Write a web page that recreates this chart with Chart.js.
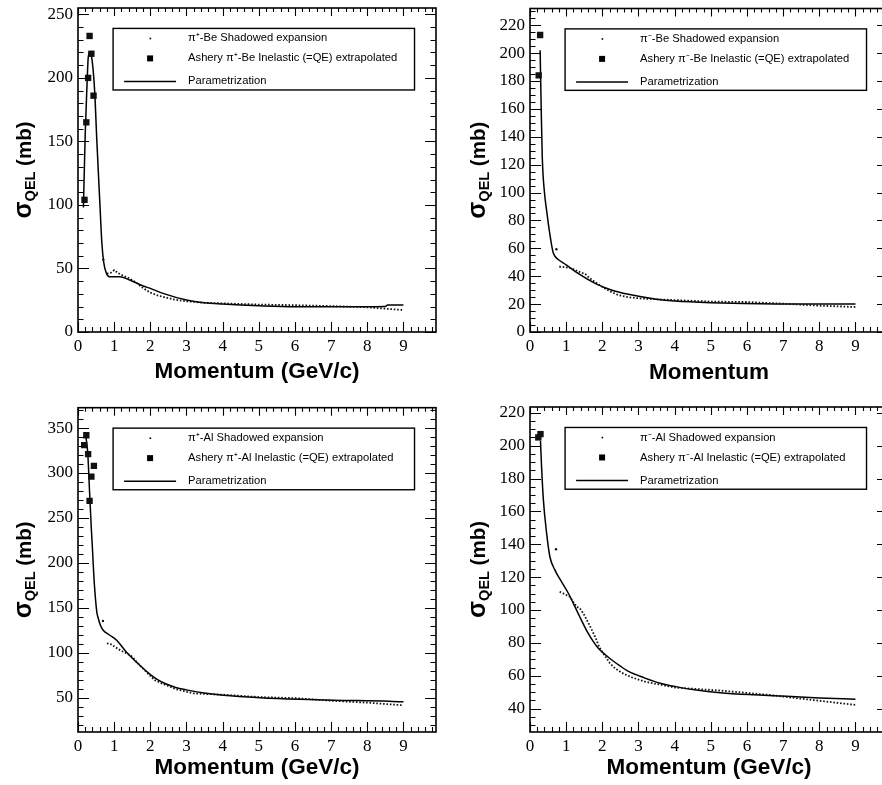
<!DOCTYPE html>
<html>
<head>
<meta charset="utf-8">
<script src="https://cdn.jsdelivr.net/npm/chart.js@4.4.1/dist/chart.umd.min.js"></script>
<style>
  html, body { margin: 0; padding: 0; background: #fff; overflow: hidden; }
  body { width: 882px; height: 785px; position: relative; }
  canvas { position: absolute; }
</style>
</head>
<body>
<canvas id="beplus"></canvas>
<canvas id="beminus"></canvas>
<canvas id="alplus"></canvas>
<canvas id="alminus"></canvas>
<script>
// pi+ Be
const bePlusShadowP = [0.7, 0.75, 0.8, 0.9, 1.0, 1.1, 1.2, 1.4, 1.6, 1.8, 2.0, 2.2, 2.4, 2.7, 3.0, 3.5, 4.0, 5.0, 6.0, 7.0, 8.0, 9.0];
const bePlusShadowS = [57, null, 46, 46.5, 48.7, 46.5, 45, 42.5, 39, 34.5, 31, 28.8, 27.3, 25.3, 24.2, 23, 22.5, 21.6, 21.1, 20.4, 19.4, 17.3];
const bePlusAsheryP = [0.18, 0.23, 0.28, 0.32, 0.37, 0.43];
const bePlusAsheryS = [104, 165, 200, 233, 219, 186];
const bePlusParamP = [0.15, 0.2, 0.25, 0.28, 0.32, 0.36, 0.39, 0.46, 0.52, 0.6, 0.66, 0.71, 0.78, 0.87, 1.0, 1.15, 1.43, 1.8, 2.0, 2.35, 3.0, 3.5, 4.0, 5.0, 6.0, 7.0, 8.5, 8.56, 9.0];
const bePlusParamS = [98, 156, 195, 215, 220, 218, 214, 190, 151, 104, 70, 55, 46.6, 43.5, 43.5, 43.5, 40.9, 36.2, 34.3, 30.4, 25.2, 23, 22, 20.6, 19.8, 19.8, 20.1, 21.2, 21.2];

// pi- Be
const beMinusShadowP = [0.73, 0.77, 0.81, 0.9, 1.15, 1.31, 1.42, 1.53, 1.63, 1.8, 2.02, 2.21, 2.44, 2.72, 3.08, 3.54, 4.0, 5.0, 6.0, 7.0, 8.0, 9.0];
const beMinusShadowS = [59.3, null, 46.8, 46.8, 45.7, 43.7, 42.5, 41.5, 39, 35.8, 32, 29.2, 26.5, 24.9, 24, 23.4, 22.9, 21.8, 21.5, 20.3, 18.9, 17.9];
const beMinusAsheryP = [0.24, 0.28];
const beMinusAsheryS = [184, 213];
const beMinusParamP = [0.28, 0.31, 0.34, 0.4, 0.46, 0.51, 0.55, 0.6, 0.64, 0.7, 0.78, 1.0, 1.33, 1.8, 2.25, 2.72, 3.5, 4.0, 5.0, 6.8, 9.0];
const beMinusParamS = [202, 160, 125, 100, 87, 77, 70, 62, 57, 54, 52, 48.2, 42, 34.9, 30.1, 27, 23.5, 22.2, 21, 20.1, 20];

// pi+ Al
const alPlusShadowP = [0.69, 0.74, 0.8, 0.9, 1.17, 1.38, 1.5, 1.59, 1.7, 2.02, 2.11, 2.35, 2.72, 3.18, 3.5, 4.0, 5.0, 6.0, 7.0, 8.0, 9.0];
const alPlusShadowS = [135.5, null, 110.8, 110, 103, 98.9, 95.9, 91.5, 86.7, 73.7, 70, 65.6, 59.7, 55.2, 54.5, 53.7, 51, 49.8, 47, 44.8, 41.9];
const alPlusAsheryP = [0.17, 0.23, 0.28, 0.32, 0.37, 0.44];
const alPlusAsheryS = [331, 342, 321, 269, 296, 308];
const alPlusParamP = [0.22, 0.27, 0.32, 0.37, 0.39, 0.45, 0.52, 0.55, 0.62, 0.69, 0.87, 1.06, 1.33, 1.7, 2.02, 2.2, 2.44, 2.7, 3.0, 3.54, 4.02, 5.04, 6.14, 7.06, 8.6, 9.0];
const alPlusParamS = [340, 322, 279, 237, 223, 178, 145.5, 140, 130.8, 125.6, 120, 114.4, 101.5, 86.7, 75.5, 70.5, 65.5, 61.7, 59, 55.2, 53, 50.3, 48.5, 47.5, 46.4, 45.7];

// pi- Al
const alMinusShadowP = [0.72, 0.77, 0.82, 0.91, 1.1, 1.29, 1.38, 1.5, 1.61, 1.72, 1.82, 1.91, 2.02, 2.12, 2.21, 2.35, 2.53, 2.81, 3.18, 3.64, 4.03, 5.26, 6.64, 7.56, 8.2, 9.03];
const alMinusShadowS = [137, null, 111.1, 110.2, 108.1, 102, 101, 97, 92.3, 87.4, 82.8, 77.7, 73.7, 70.6, 67.6, 64.6, 61.9, 59.1, 56.4, 54.4, 52.8, 51, 48.3, 45.9, 44.3, 42.2];
const alMinusAsheryP = [0.23, 0.29];
const alMinusAsheryS = [205, 207];
const alMinusParamP = [0.29, 0.32, 0.37, 0.46, 0.55, 0.69, 0.87, 1.06, 1.33, 1.61, 1.89, 2.1, 2.3, 2.49, 2.71, 3.18, 3.6, 4.03, 4.6, 5.26, 6.2, 7.1, 8.0, 9.0];
const alMinusParamS = [203, 187, 167, 146.6, 132.4, 124.3, 117.2, 110.2, 98, 85.8, 76.7, 72.5, 69, 66, 62.8, 58.6, 55.5, 53.4, 51.3, 49.7, 48.4, 47.5, 46.5, 45.7];

const pts = (xs, ys) => xs.map((x, i) => ({ x, y: ys[i] }));

// inward ticks on all four sides plus the frame
const frameTicks = {
  id: 'frameTicks',
  afterDatasetsDraw(chart, args, o) {
    const { ctx, chartArea: a, scales: { x, y } } = chart;
    ctx.save();
    ctx.strokeStyle = '#000';
    ctx.lineWidth = 1.1;
    ctx.beginPath();
    for (let i = 0; ; i++) {
      const v = x.min + i * o.xMinor;
      if (v > x.max + 1e-9) break;
      const px = Math.round(x.getPixelForValue(v)) + 0.5;
      const major = Math.abs(v / o.xMajor - Math.round(v / o.xMajor)) < 1e-6;
      ctx.moveTo(px, a.bottom); ctx.lineTo(px, a.bottom - (major ? 10 : 5));
      ctx.moveTo(px, a.top); ctx.lineTo(px, a.top + (major ? 8 : 4));
    }
    const start = Math.ceil(y.min / o.yMinor - 1e-9) * o.yMinor;
    for (let v = start; v <= y.max + 1e-9; v += o.yMinor) {
      const py = Math.round(y.getPixelForValue(v)) + 0.5;
      const major = Math.abs(v / o.yMajor - Math.round(v / o.yMajor)) < 1e-6;
      const len = major ? 11 : 5.5;
      ctx.moveTo(a.left, py); ctx.lineTo(a.left + len, py);
      ctx.moveTo(a.right, py); ctx.lineTo(a.right - len, py);
    }
    ctx.stroke();
    ctx.lineWidth = 1.6;
    ctx.strokeRect(a.left, a.top, a.width, a.height);
    ctx.restore();
  }
};

// sigma_QEL (mb) with a subscript
const yTitle = {
  id: 'yTitle',
  afterDraw(chart, args, o) {
    const { ctx, chartArea: a } = chart;
    const parts = [
      { t: 'σ', f: 'bold 25px "Liberation Sans"', dy: 0 },
      { t: 'QEL', f: 'bold 14.5px "Liberation Sans"', dy: 4 },
      { t: ' (mb)', f: 'bold 20.5px "Liberation Sans"', dy: 0 }
    ];
    ctx.save();
    ctx.fillStyle = '#000';
    let total = 0;
    parts.forEach(p => { ctx.font = p.f; p.w = ctx.measureText(p.t).width; total += p.w; });
    ctx.translate(o.x, (a.top + a.bottom) / 2);
    ctx.rotate(-Math.PI / 2);
    ctx.textBaseline = 'alphabetic';
    let cx = -total / 2;
    parts.forEach(p => { ctx.font = p.f; ctx.fillText(p.t, cx, p.dy); cx += p.w; });
    ctx.restore();
  }
};

// framed legend in the upper part of the plot
const boxLegend = {
  id: 'boxLegend',
  afterDatasetsDraw(chart) {
    const { ctx, chartArea: a } = chart;
    const l = a.left + a.width * 0.098, r = a.left + a.width * 0.94;
    const t = a.top + a.height * 0.063, b = a.top + a.height * 0.253;
    ctx.save();
    ctx.fillStyle = '#fff';
    ctx.fillRect(l, t, r - l, b - t);
    ctx.lineWidth = 1.4;
    ctx.strokeStyle = '#000';
    ctx.strokeRect(l, t, r - l, b - t);
    const rows = [10, 30, 53];
    ctx.font = '11.2px "Liberation Sans"';
    ctx.textBaseline = 'middle';
    chart.data.datasets.forEach((ds, i) => {
      const yy = t + rows[i];
      ctx.fillStyle = '#000';
      if (ds.showLine === false) {
        ctx.fillRect(l + 34, yy - 3, 6, 6);
      } else if (ds.borderDash) {
        ctx.fillRect(l + 36.5, yy - 0.7, 1.6, 1.6);
      } else {
        ctx.lineWidth = 1.5;
        ctx.beginPath(); ctx.moveTo(l + 11, yy); ctx.lineTo(l + 63, yy); ctx.stroke();
      }
      ctx.fillText(ds.label, l + 75, yy);
    });
    ctx.restore();
  }
};

function panel(id, p) {
  const el = document.getElementById(id);
  el.width = p.w; el.height = p.h;
  el.style.left = p.left + 'px'; el.style.top = p.top + 'px';
  return new Chart(el, {
    type: 'line',
    data: {
      datasets: [
        {
          label: p.labels[0], data: pts(p.shadowP, p.shadowS),
          borderColor: '#111', borderWidth: 1.8, borderDash: [1.6, 1.8],
          pointRadius: c => c.dataIndex === 0 ? 1.2 : 0, pointBorderWidth: 0,
          pointBackgroundColor: '#111', spanGaps: false
        },
        {
          label: p.labels[1], data: pts(p.asheryP, p.asheryS), showLine: false,
          pointStyle: 'rect', pointRadius: 4.5, pointBorderWidth: 0,
          pointBackgroundColor: '#111'
        },
        {
          label: p.labels[2], data: pts(p.paramP, p.paramS),
          borderColor: '#000', borderWidth: 1.5, pointRadius: 0,
          cubicInterpolationMode: 'monotone'
        }
      ]
    },
    options: {
      responsive: false, animation: false, devicePixelRatio: 1,
      layout: { padding: { left: 0, top: p.padTop, right: p.padRight, bottom: 0 } },
      plugins: {
        legend: { display: false }, tooltip: { enabled: false },
        frameTicks: { xMajor: 1, xMinor: 0.2, yMajor: p.yMajor, yMinor: p.yMinor },
        yTitle: { x: p.titleX }
      },
      scales: {
        x: {
          type: 'linear', min: 0, max: 9.9,
          grid: { display: false, drawTicks: false }, border: { display: false },
          ticks: { stepSize: 1, includeBounds: false, padding: 4, color: '#000',
                   font: { family: 'Liberation Serif', size: 17 } },
          title: { display: true, text: p.xTitle, color: '#000',
                   font: { family: 'Liberation Sans', size: 22.5, weight: 'bold' },
                   padding: { top: 0, bottom: p.xTitlePad } },
          afterFit: s => { s.height = p.xAxisH; s.paddingLeft = 0; s.paddingRight = 0; }
        },
        y: {
          type: 'linear', min: p.yMin, max: p.yMax,
          grid: { display: false, drawTicks: false }, border: { display: false },
          ticks: { stepSize: p.yMajor, includeBounds: false, padding: 5, color: '#000',
                   font: { family: 'Liberation Serif', size: 17 } },
          afterFit: s => { s.width = p.yAxisW; s.paddingTop = 0; s.paddingBottom = 0; }
        }
      }
    },
    plugins: [frameTicks, yTitle, boxLegend]
  });
}

panel('beplus', {
  left: 0, top: 0, w: 441, h: 392, padTop: 8, padRight: 5, yAxisW: 78, xAxisH: 60,
  yMin: 0, yMax: 255, yMajor: 50, yMinor: 10, titleX: 30.5, xTitlePad: 7,
  xTitle: 'Momentum (GeV/c)',
  labels: ['π⁺-Be Shadowed expansion', 'Ashery π⁺-Be Inelastic (=QE) extrapolated', 'Parametrization'],
  shadowP: bePlusShadowP, shadowS: bePlusShadowS, asheryP: bePlusAsheryP, asheryS: bePlusAsheryS,
  paramP: bePlusParamP, paramS: bePlusParamS
});

panel('beminus', {
  left: 441, top: 0, w: 460, h: 392, padTop: 8.5, padRight: 13, yAxisW: 89, xAxisH: 60,
  yMin: 0, yMax: 232, yMajor: 20, yMinor: 5, titleX: 44, xTitlePad: 6,
  xTitle: 'Momentum',
  labels: ['π⁻-Be Shadowed expansion', 'Ashery π⁻-Be Inelastic (=QE) extrapolated', 'Parametrization'],
  shadowP: beMinusShadowP, shadowS: beMinusShadowS, asheryP: beMinusAsheryP, asheryS: beMinusAsheryS,
  paramP: beMinusParamP, paramS: beMinusParamS
});

panel('alplus', {
  left: 0, top: 392, w: 441, h: 393, padTop: 15.7, padRight: 5, yAxisW: 78, xAxisH: 53,
  yMin: 12.2, yMax: 372.6, yMajor: 50, yMinor: 10, titleX: 30.5, xTitlePad: 4,
  xTitle: 'Momentum (GeV/c)',
  labels: ['π⁺-Al Shadowed expansion', 'Ashery π⁺-Al Inelastic (=QE) extrapolated', 'Parametrization'],
  shadowP: alPlusShadowP, shadowS: alPlusShadowS, asheryP: alPlusAsheryP, asheryS: alPlusAsheryS,
  paramP: alPlusParamP, paramS: alPlusParamS
});

panel('alminus', {
  left: 441, top: 392, w: 460, h: 393, padTop: 15, padRight: 13, yAxisW: 89, xAxisH: 53,
  yMin: 25.8, yMax: 223.5, yMajor: 20, yMinor: 5, titleX: 44, xTitlePad: 4,
  xTitle: 'Momentum (GeV/c)',
  labels: ['π⁻-Al Shadowed expansion', 'Ashery π⁻-Al Inelastic (=QE) extrapolated', 'Parametrization'],
  shadowP: alMinusShadowP, shadowS: alMinusShadowS, asheryP: alMinusAsheryP, asheryS: alMinusAsheryS,
  paramP: alMinusParamP, paramS: alMinusParamS
});
</script>
</body>
</html>
